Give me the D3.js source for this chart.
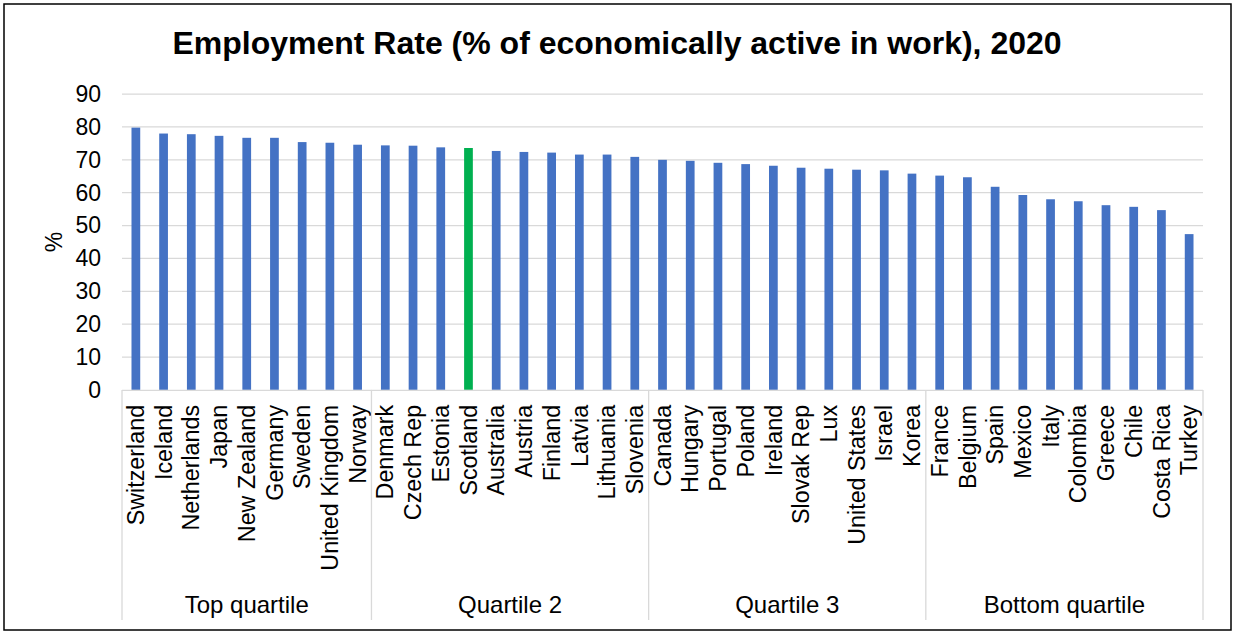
<!DOCTYPE html>
<html><head><meta charset="utf-8">
<script src="https://cdn.jsdelivr.net/npm/d3@7"></script>
<style>body{margin:0;background:#fff;} text{font-family:"Liberation Sans",Arial,sans-serif;fill:#000;}</style>
</head><body>
<svg id="c" width="1235" height="635"></svg>
<script>
const countries = ["Switzerland","Iceland","Netherlands","Japan","New Zealand","Germany","Sweden","United Kingdom","Norway",
 "Denmark","Czech Rep","Estonia","Scotland","Australia","Austria","Finland","Latvia","Lithuania","Slovenia",
 "Canada","Hungary","Portugal","Poland","Ireland","Slovak Rep","Lux","United States","Israel","Korea",
 "France","Belgium","Spain","Mexico","Italy","Colombia","Greece","Chile","Costa Rica","Turkey"];
const values = [79.8,78.0,77.8,77.3,76.7,76.7,75.4,75.2,74.6,
 74.4,74.3,73.8,73.6,72.7,72.4,72.2,71.6,71.6,70.9,
 70.0,69.7,69.1,68.7,68.2,67.6,67.3,67.0,66.8,65.8,
 65.2,64.7,61.8,59.3,58.0,57.4,56.2,55.7,54.7,47.4];
const groups = ["Top quartile","Quartile 2","Quartile 3","Bottom quartile"];
const groupSizes = [9,10,10,10];
const highlight = ["Scotland"];
const yTicks = [0,10,20,30,40,50,60,70,80,90];
const title = "Employment Rate (% of economically active in work), 2020";

const svg = d3.select("#c");
const L=122, R=1203, T=94.1, B=389.9;
svg.append("rect").attr("x",4).attr("y",4).attr("width",1227).attr("height",626)
  .attr("fill","#fff").attr("stroke","#000").attr("stroke-width",1.5);

const x = d3.scaleBand().domain(countries).range([L,R]).paddingInner(0.685).paddingOuter(0.3425);
const y = d3.scaleLinear().domain([0,90]).range([B,T]);

svg.append("text").attr("x",617).attr("y",54).attr("text-anchor","middle")
  .style("font-size","32px").style("font-weight","bold").text(title);

// gridlines
svg.append("g").selectAll("line").data(yTicks.filter(d=>d>0)).join("line")
  .attr("x1",L).attr("x2",R).attr("y1",d=>y(d)).attr("y2",d=>y(d))
  .attr("stroke","#d9d9d9").attr("stroke-width",1.3);

// y axis
const ya = svg.append("g").attr("transform",`translate(${L},0)`)
  .call(d3.axisLeft(y).tickValues(yTicks).tickSize(0).tickPadding(21));
ya.select(".domain").remove();
ya.selectAll("text").style("font-size","23px").style("font-family","'Liberation Sans',Arial,sans-serif").attr("fill","#000");

svg.append("text").attr("transform","translate(62,242) rotate(-90)").attr("text-anchor","middle")
  .style("font-size","23px").text("%");

// bars
svg.append("g").selectAll("rect").data(countries).join("rect")
  .attr("x",d=>x(d)).attr("width",x.bandwidth())
  .attr("y",(d,i)=>y(values[i])).attr("height",(d,i)=>B-y(values[i]))
  .attr("fill",d=>highlight.includes(d)?"#00B050":"#4472C4");

// x axis line
svg.append("line").attr("x1",L).attr("x2",R).attr("y1",B+0.5).attr("y2",B+0.5)
  .attr("stroke","#d9d9d9").attr("stroke-width",1.3);

// category labels
const xa = svg.append("g").attr("transform",`translate(0,${B})`)
  .call(d3.axisBottom(x).tickSize(0).tickPadding(0));
xa.select(".domain").remove();
xa.selectAll("text").style("font-size","23.3px").style("font-family","'Liberation Sans',Arial,sans-serif")
  .attr("fill","#000").attr("text-anchor","end").attr("dy","0.35em")
  .attr("transform","translate(0,15) rotate(-90)").attr("x",0).attr("y",0);

// group separators & labels
const step = x.step();
let cum=0; const bounds=[L];
groupSizes.forEach(s=>{cum+=s; bounds.push(L+cum*step);});
svg.append("g").selectAll("line").data(bounds).join("line")
  .attr("x1",d=>d).attr("x2",d=>d).attr("y1",B).attr("y2",620)
  .attr("stroke","#d9d9d9").attr("stroke-width",1.3);
svg.append("g").selectAll("text").data(groups).join("text")
  .attr("x",(d,i)=>(bounds[i]+bounds[i+1])/2).attr("y",613).attr("text-anchor","middle")
  .style("font-size","24px").text(d=>d);
</script>
</body></html>
